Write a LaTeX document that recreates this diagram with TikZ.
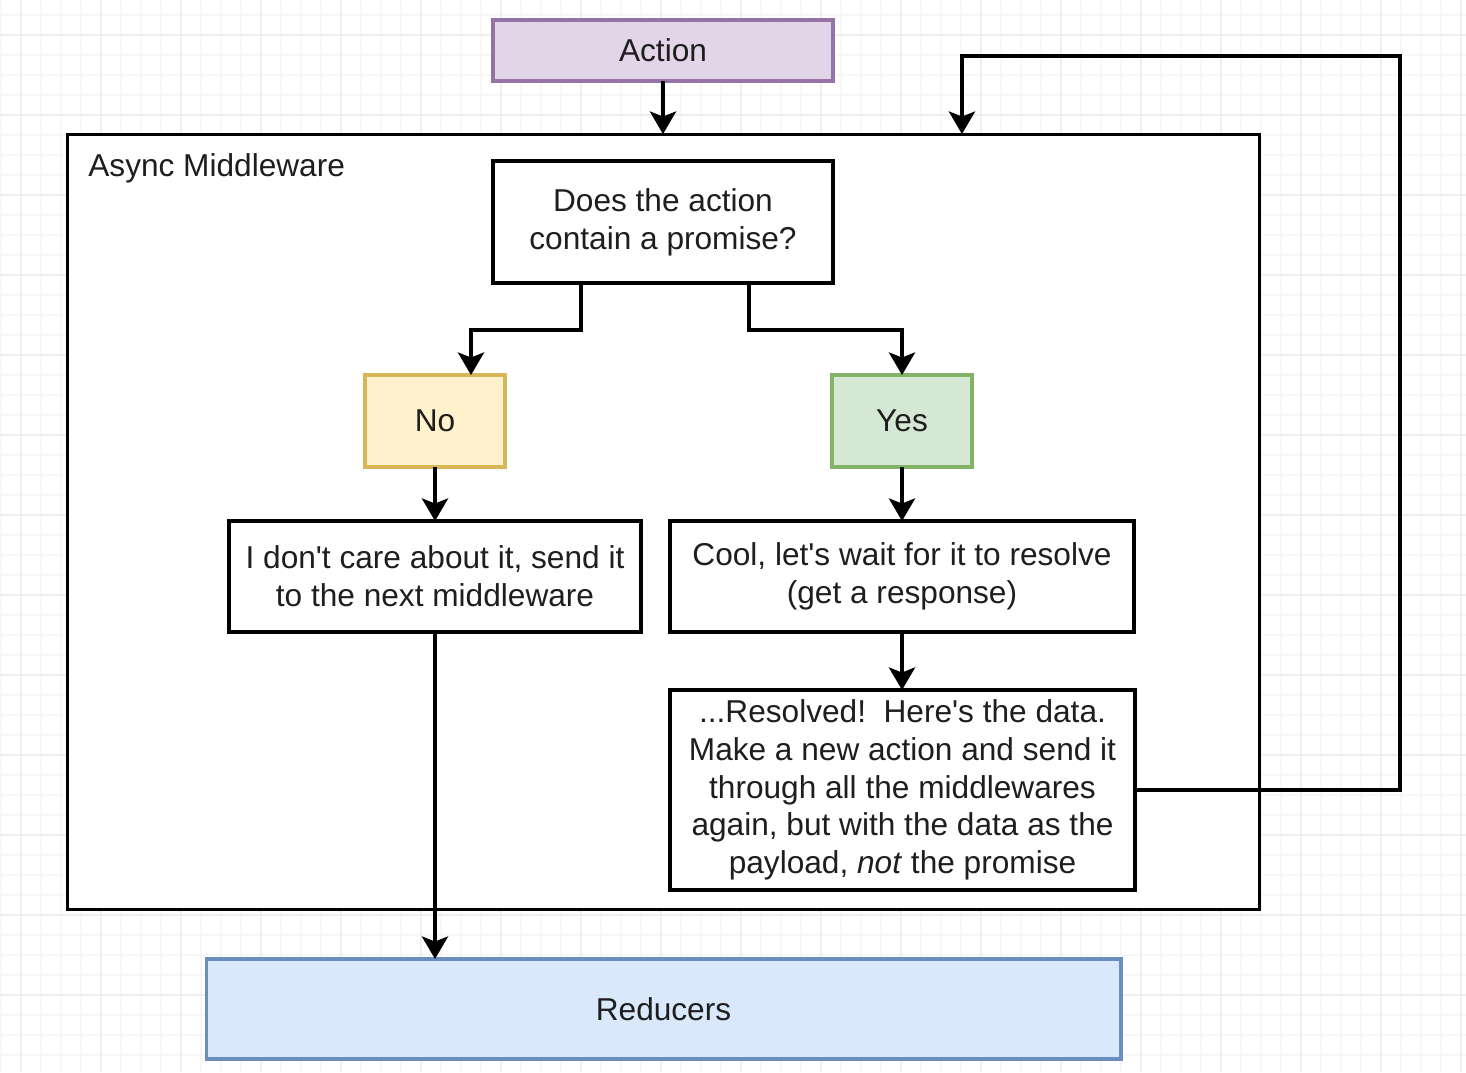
\documentclass[tikz,border=0pt]{standalone}
\usepackage{fontspec}
\setmainfont{Liberation Sans}[Ligatures=TeXOff]
\usetikzlibrary{arrows.meta}
\definecolor{purpfill}{HTML}{E1D5E7}\definecolor{purpline}{HTML}{9673A6}
\definecolor{yelfill}{HTML}{FFF2CC}\definecolor{yelline}{HTML}{D6B656}
\definecolor{grnfill}{HTML}{D5E8D4}\definecolor{grnline}{HTML}{82B366}
\definecolor{blufill}{HTML}{DAE8FC}\definecolor{bluline}{HTML}{6C8EBF}
\definecolor{txt}{HTML}{1E1E1E}
\definecolor{gridminor}{HTML}{F7F7F7}\definecolor{gridmajor}{HTML}{EEEEEE}
\begin{document}
\begin{tikzpicture}[x=0.02cm,y=-0.02cm,
  every node/.style={font=\fontsize{18pt}{21.5pt}\selectfont, text=txt},
  box/.style={draw=black, line width=2pt, fill=white, inner sep=0pt, outer sep=0pt, align=center},
  colbox/.style={line width=1.8pt, inner sep=0pt, outer sep=0pt, align=center},
  arr/.style={line width=2.4pt, -{Stealth[length=0.45cm,width=0.52cm,inset=0.1cm]}}]
\useasboundingbox (0,0) rectangle (1466,1072);
\fill[white] (0,0) rectangle (1466,1072);
% grid
\foreach \gx in {1,21,...,1466} \draw[gridminor, line width=0.6pt] (\gx,0) -- (\gx,1072);
\foreach \gy in {15,35,...,1072} \draw[gridminor, line width=0.6pt] (0,\gy) -- (1466,\gy);
\foreach \gx in {21,101,...,1466} \draw[gridmajor, line width=0.7pt] (\gx,0) -- (\gx,1072);
\foreach \gy in {35,115,...,1072} \draw[gridmajor, line width=0.7pt] (0,\gy) -- (1466,\gy);
% container
\node[box, line width=1.7pt, minimum width=23.86cm, minimum height=15.52cm] (mw) at (663.5,522) {};
\node[anchor=west, inner sep=0pt] (mwlabel) at (88,168) {Async Middleware};
% nodes
\node[colbox, draw=purpline, fill=purpfill, minimum width=6.8cm, minimum height=1.22cm] (act) at (663,50.5) {Action};
\node[box, minimum width=6.8cm, minimum height=2.44cm] (q) at (663,222) {Does the action\\contain a promise?};
\node[colbox, draw=yelline, fill=yelfill, minimum width=2.8cm, minimum height=1.84cm] (no) at (435,421) {No};
\node[colbox, draw=grnline, fill=grnfill, minimum width=2.8cm, minimum height=1.84cm] (yes) at (902,421) {Yes};
\node[box, minimum width=8.24cm, minimum height=2.22cm] (left) at (435,576.5) {I don't care about it, send it\\to the next middleware};
\node[box, minimum width=9.28cm, minimum height=2.22cm] (right) at (902,576.5) {Cool, let's wait for it to resolve\\(get a response)};
\node[box, minimum width=9.3cm, minimum height=4.0cm] (res) at (902.5,790) {...Resolved!\ \ Here's the data.\\Make a new action and send it\\through all the middlewares\\again, but with the data as the\\payload, \textit{not} the promise};
\node[colbox, draw=bluline, fill=blufill, minimum width=18.3cm, minimum height=2.0cm] (red) at (663.5,1009) {Reducers};
% connectors
\draw[arr] (act.south) -- (act.south |- mw.north);
\draw[arr] ([xshift=-1.64cm]q.south) -- ++(0,47) -| ([xshift=0.72cm]no.north);
\draw[arr] ([xshift=1.72cm]q.south) -- ++(0,47) -| (yes.north);
\draw[arr] (no.south) -- (no.south |- left.north);
\draw[arr] (yes.south) -- (yes.south |- right.north);
\draw[arr] (right.south) -- (right.south |- res.north);
\draw[arr] (left.south) -- (left.south |- red.north);
\coordinate (loopc) at (1400,56);
\draw[arr] (res.east) -| (loopc) -| ([xshift=5.97cm]mw.north);
\end{tikzpicture}
\end{document}
